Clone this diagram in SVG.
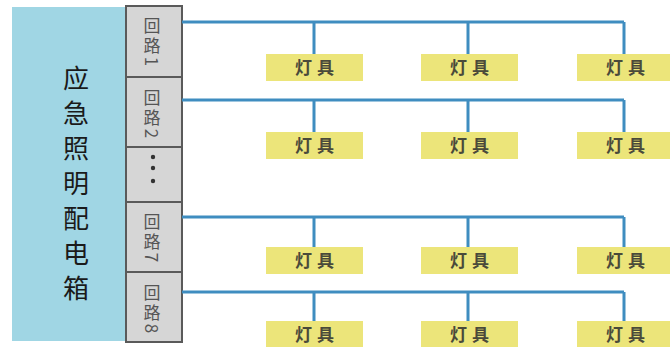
<svg xmlns="http://www.w3.org/2000/svg" width="670" height="349" viewBox="0 0 670 349">
<style>
.cell{fill:#d6d6d6;stroke:#5a5a5a;stroke-width:2}
.ct{font-family:"Noto Sans CJK SC","Liberation Sans",sans-serif;font-size:17px;fill:#555;text-anchor:middle;writing-mode:vertical-rl;text-orientation:mixed;letter-spacing:3px}
.lamp{fill:#ece57a}
.lt{font-family:"Noto Sans CJK SC",sans-serif;font-size:17px;font-weight:bold;fill:#4a4a3a;text-anchor:middle;letter-spacing:5px}
.wire{stroke:#3f8dc0;stroke-width:3;fill:none}
.mt{font-family:"Noto Sans CJK SC",sans-serif;font-size:26px;fill:#1a1a1a;text-anchor:middle;writing-mode:vertical-rl;letter-spacing:9px}
</style>
<rect width="670" height="349" fill="#ffffff"/>
<g id="panel">
<rect x="12" y="7" width="115" height="334" fill="#a0d6e4"/>
<text class="mt" x="76" y="188">应急照明配电箱</text>
</g>
<g id="circuit1">
<rect class="cell" x="126" y="6" width="56" height="71"/>
<text class="ct" x="152" y="43">回路1</text>
</g>
<g id="circuit2">
<rect class="cell" x="126" y="77" width="56" height="70"/>
<text class="ct" x="152" y="115">回路2</text>
</g>
<g id="dots">
<rect class="cell" x="126" y="147" width="56" height="55"/>
<circle cx="153" cy="157" r="2.2" fill="#333"/>
<circle cx="153" cy="168" r="2.2" fill="#333"/>
<circle cx="153" cy="181" r="2.2" fill="#333"/>
</g>
<g id="circuit7">
<rect class="cell" x="126" y="202" width="56" height="70"/>
<text class="ct" x="152" y="239">回路7</text>
</g>
<g id="circuit8">
<rect class="cell" x="126" y="272" width="56" height="70"/>
<text class="ct" x="152" y="310">回路8</text>
</g>
<g id="connectors">
<path class="wire" d="M182 22H624M314 22V55M468 22V55M624 22V55"/>
<path class="wire" d="M182 100H624M314 100V133M468 100V133M624 100V133"/>
<path class="wire" d="M182 217H624M314 217V248M468 217V248M624 217V248"/>
<path class="wire" d="M182 292H624M314 292V322M468 292V322M624 292V322"/>
</g>
<g id="lamp-1-1"><rect class="lamp" x="266" y="54" width="97" height="27"/><text class="lt" x="317" y="74">灯具</text></g>
<g id="lamp-1-2"><rect class="lamp" x="421" y="54" width="97" height="27"/><text class="lt" x="472" y="74">灯具</text></g>
<g id="lamp-1-3"><rect class="lamp" x="577" y="54" width="93" height="27"/><text class="lt" x="628" y="74">灯具</text></g>
<g id="lamp-2-1"><rect class="lamp" x="266" y="132" width="97" height="27"/><text class="lt" x="317" y="152">灯具</text></g>
<g id="lamp-2-2"><rect class="lamp" x="421" y="132" width="97" height="27"/><text class="lt" x="472" y="152">灯具</text></g>
<g id="lamp-2-3"><rect class="lamp" x="577" y="132" width="93" height="27"/><text class="lt" x="628" y="152">灯具</text></g>
<g id="lamp-3-1"><rect class="lamp" x="266" y="247" width="97" height="27"/><text class="lt" x="317" y="267">灯具</text></g>
<g id="lamp-3-2"><rect class="lamp" x="421" y="247" width="97" height="27"/><text class="lt" x="472" y="267">灯具</text></g>
<g id="lamp-3-3"><rect class="lamp" x="577" y="247" width="93" height="27"/><text class="lt" x="628" y="267">灯具</text></g>
<g id="lamp-4-1"><rect class="lamp" x="266" y="321" width="97" height="26"/><text class="lt" x="317" y="341">灯具</text></g>
<g id="lamp-4-2"><rect class="lamp" x="421" y="321" width="97" height="26"/><text class="lt" x="472" y="341">灯具</text></g>
<g id="lamp-4-3"><rect class="lamp" x="577" y="321" width="93" height="26"/><text class="lt" x="628" y="341">灯具</text></g>
</svg>
